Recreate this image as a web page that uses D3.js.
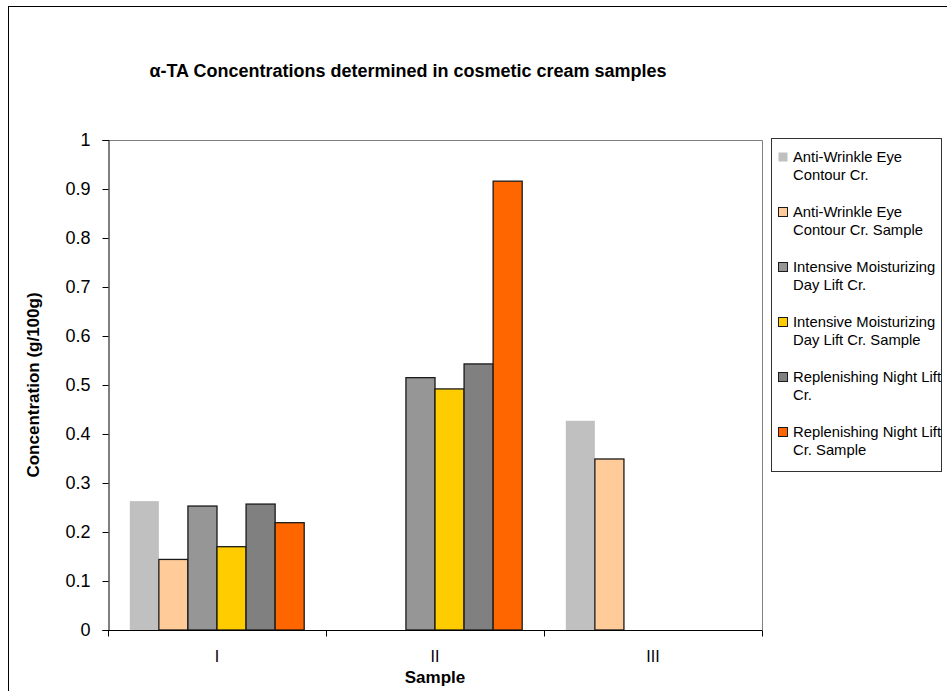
<!DOCTYPE html>
<html>
<head>
<meta charset="utf-8">
<script src="https://cdn.jsdelivr.net/npm/d3@7"></script>
<style>
  html, body { margin: 0; padding: 0; background: #fff; }
  svg { display: block; font-family: "Liberation Sans", Arial, sans-serif; }
</style>
</head>
<body>
<svg id="chart" width="947" height="691"></svg>
<script>
// Samples on the x axis
const samples = ["I", "II", "III"];

// Series names (legend text) and their fill colours
const seriesNames = [
  "Anti-Wrinkle Eye Contour Cr.",
  "Anti-Wrinkle Eye Contour Cr. Sample",
  "Intensive Moisturizing Day Lift Cr.",
  "Intensive Moisturizing Day Lift Cr. Sample",
  "Replenishing Night Lift Cr.",
  "Replenishing Night Lift Cr. Sample"
];
const legendLines = [
  ["Anti-Wrinkle Eye", "Contour Cr."],
  ["Anti-Wrinkle Eye", "Contour Cr. Sample"],
  ["Intensive Moisturizing", "Day Lift Cr."],
  ["Intensive Moisturizing", "Day Lift Cr. Sample"],
  ["Replenishing Night Lift", "Cr."],
  ["Replenishing Night Lift", "Cr. Sample"]
];
const seriesColors = ["#C0C0C0", "#FFCC99", "#969696", "#FFCC00", "#808080", "#FF6600"];
const seriesOutlined = [false, true, true, true, true, true];

// Concentrations (g/100g) per series, one value per sample (null = not measured)
const awecValues       = [0.263, null, 0.427];
const awecSampleValues = [0.144, null, 0.349];
const imdlValues       = [0.253, 0.515, null];
const imdlSampleValues = [0.170, 0.492, null];
const rnlValues        = [0.257, 0.543, null];
const rnlSampleValues  = [0.219, 0.916, null];
const seriesValues = [awecValues, awecSampleValues, imdlValues, imdlSampleValues, rnlValues, rnlSampleValues];

// Y axis tick values
const yTicks = [0, 0.1, 0.2, 0.3, 0.4, 0.5, 0.6, 0.7, 0.8, 0.9, 1];

const svg = d3.select("#chart");

// Outer chart frame
svg.append("rect")
  .attr("x", 8.5).attr("y", 6.5)
  .attr("width", 1200).attr("height", 1200)
  .attr("fill", "none").attr("stroke", "#000").attr("stroke-width", 1);

const plot = { left: 108, right: 762, top: 140, bottom: 630 };

const x = d3.scaleBand().domain(samples).range([plot.left, plot.right]).padding(0);
const y = d3.scaleLinear().domain([0, 1]).range([plot.bottom, plot.top]);

// Bars inside each category: gap of 1.5 bar widths, split on both sides
const barW = x.bandwidth() / (seriesNames.length + 1.5);
const xs = d3.scaleBand().domain(d3.range(seriesNames.length))
  .range([0.75 * barW, x.bandwidth() - 0.75 * barW]).padding(0);

// Plot area border (top and right)
svg.append("path")
  .attr("d", `M${plot.left},${plot.top + 0.5}H${plot.right + 0.5}V${plot.bottom}`)
  .attr("fill", "none").attr("stroke", "#808080").attr("stroke-width", 1);

// Bars
const bars = [];
seriesValues.forEach((vals, si) => {
  vals.forEach((v, ci) => {
    if (v != null) bars.push({ si, ci, v });
  });
});
svg.append("g").selectAll("rect").data(bars).join("rect")
  .attr("x", d => x(samples[d.ci]) + xs(d.si))
  .attr("y", d => y(d.v))
  .attr("width", xs.bandwidth())
  .attr("height", d => y(0) - y(d.v))
  .attr("fill", d => seriesColors[d.si])
  .attr("stroke", d => seriesOutlined[d.si] ? "#1a1a1a" : "none")
  .attr("stroke-width", 1.3);

// Y axis
const yAxis = svg.append("g")
  .attr("transform", `translate(${plot.left + 0.5},0)`)
  .call(d3.axisLeft(y).tickValues(yTicks).tickSize(6).tickPadding(12)
    .tickFormat(d => d3.format("")(+d.toFixed(1))));
yAxis.select(".domain").attr("stroke", "#000");
yAxis.selectAll(".tick line").attr("stroke", "#000");
yAxis.selectAll(".tick text")
  .attr("font-family", "'Liberation Sans', Arial, sans-serif")
  .attr("font-size", 18).attr("fill", "#000");

// X axis: ticks at category boundaries, labels at band centres
const xAxisG = svg.append("g").attr("transform", `translate(0,${plot.bottom + 0.5})`);
xAxisG.append("line")
  .attr("x1", plot.left).attr("x2", plot.right + 0.5)
  .attr("stroke", "#000");
const boundaries = samples.map(s => x(s)).concat([x.range()[1]]);
xAxisG.selectAll("line.tk").data(boundaries).join("line")
  .attr("class", "tk")
  .attr("x1", d => d + 0.5).attr("x2", d => d + 0.5)
  .attr("y1", 0).attr("y2", 6)
  .attr("stroke", "#000");
xAxisG.selectAll("text").data(samples).join("text")
  .attr("x", d => x(d) + x.bandwidth() / 2)
  .attr("y", 31)
  .attr("text-anchor", "middle")
  .attr("font-size", 16)
  .text(d => d);

// Axis titles
svg.append("text")
  .attr("x", x("II") + x.bandwidth() / 2).attr("y", 683)
  .attr("text-anchor", "middle")
  .attr("font-size", 17).attr("font-weight", "bold")
  .text("Sample");
svg.append("text")
  .attr("transform", `translate(39,${(plot.top + plot.bottom) / 2}) rotate(-90)`)
  .attr("text-anchor", "middle")
  .attr("font-size", 17).attr("font-weight", "bold")
  .text("Concentration (g/100g)");

// Title
svg.append("text")
  .attr("x", 408).attr("y", 77)
  .attr("text-anchor", "middle")
  .attr("font-size", 18).attr("font-weight", "bold")
  .text("α-TA Concentrations determined in cosmetic cream samples");

// Legend
const legend = svg.append("g");
legend.append("rect")
  .attr("x", 771.5).attr("y", 138.5)
  .attr("width", 170).attr("height", 333)
  .attr("fill", "#fff").attr("stroke", "#333").attr("stroke-width", 1);
const items = legend.selectAll("g.item").data(seriesNames).join("g")
  .attr("class", "item")
  .attr("transform", (d, i) => `translate(0,${157 + i * 55})`);
items.append("rect")
  .attr("x", 778.5).attr("y", -4.5)
  .attr("width", 9).attr("height", 9)
  .attr("fill", (d, i) => seriesColors[i])
  .attr("stroke", (d, i) => seriesOutlined[i] ? "#1a1a1a" : "none");
items.each(function(d, i) {
  d3.select(this).selectAll("text").data(legendLines[i]).join("text")
    .attr("x", 793)
    .attr("y", (t, j) => 5 + j * 18)
    .attr("font-size", 14.8)
    .text(t => t);
});
</script>
</body>
</html>
